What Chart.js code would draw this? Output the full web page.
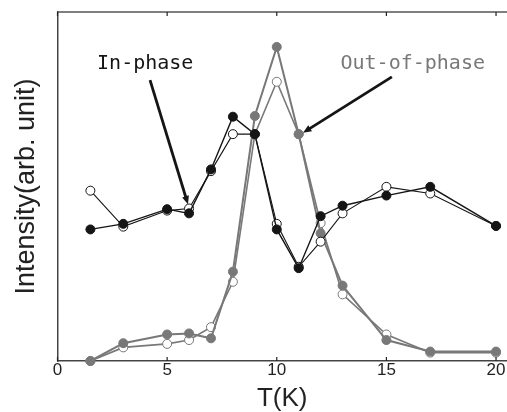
<!DOCTYPE html>
<html>
<head>
<meta charset="utf-8">
<title>Intensity vs T</title>
<script src="https://cdn.jsdelivr.net/npm/chart.js@4/dist/chart.umd.min.js"></script>
<style>
  html, body { margin: 0; padding: 0; background: #fff; }
  #chart { display: block; }
</style>
</head>
<body>
<canvas id="chart" width="507" height="412"></canvas>
<script>
// temperatures (K)
const temps = [1.5, 3, 5, 6, 7, 8, 9, 10, 11, 12, 13, 15, 17, 20];
const xTicks = [0, 5, 10, 15, 20];

// in-phase (black) and out-of-phase (gray), filled and open markers
const inPhaseFilled  = [37.7, 39.3, 43.5, 42.3, 54.9, 70.0, 65.0, 37.7, 26.6, 41.5, 44.5, 47.4, 49.9, 38.7];
const inPhaseOpen    = [48.8, 38.5, 43.1, 43.7, 54.4, 65.0, 65.0, 39.3, 27.0, 34.2, 42.3, 49.9, 48.0, 38.7];
const outPhaseFilled = [0.0, 5.1, 7.6, 7.9, 6.5, 25.6, 70.2, 90.0, 65.0, 36.6, 21.6, 6.0, 2.7, 2.7];
const outPhaseOpen   = [0.0, 3.9, 4.9, 6.0, 9.7, 22.7, 65.0, 80.0, 65.0, 39.5, 19.1, 7.6, 2.4, 2.4];

// annotation anchors in data units: [text x, text y, arrow start x, y, arrow tip x, y]
const inPhaseNote  = ["In-phase", 4.0, 85.1, 4.22, 80.5, 5.95, 44.9];
const outPhaseNote = ["Out-of-phase", 16.2, 85.1, 15.25, 81.4, 11.2, 65.4];

const BLACK = "#151515";
const GRAY = "#787878";

function pts(ys) {
    return temps.map((t, i) => ({x: t, y: ys[i]}));
}

function series(label, ys, color, filled, width, order) {
    return {
        label: label,
        data: pts(ys),
        borderColor: color,
        borderWidth: width,
        backgroundColor: color,
        pointRadius: 4.5,
        pointBorderWidth: 1,
        pointBorderColor: color,
        pointBackgroundColor: filled ? color : "#ffffff",
        tension: 0,
        clip: false,
        order: order,
    };
}

const framePlugin = {
    id: "frame",
    afterDraw(chart) {
        const ctx = chart.ctx;
        const a = chart.chartArea;
        const xs = chart.scales.x;
        const ys = chart.scales.y;
        ctx.save();
        // top frame line
        ctx.strokeStyle = "#555";
        ctx.lineWidth = 1.5;
        ctx.beginPath();
        ctx.moveTo(a.left, a.top);
        ctx.lineTo(a.right, a.top);
        ctx.stroke();
        // inward ticks top and bottom
        ctx.strokeStyle = "#222";
        ctx.lineWidth = 1.2;
        xTicks.forEach(v => {
            const px = xs.getPixelForValue(v);
            ctx.beginPath();
            ctx.moveTo(px, a.top);
            ctx.lineTo(px, a.top + 4);
            ctx.moveTo(px, a.bottom);
            ctx.lineTo(px, a.bottom - 4);
            ctx.stroke();
        });
        // annotations with arrows
        [[inPhaseNote, BLACK], [outPhaseNote, GRAY]].forEach(([n, col]) => {
            ctx.font = "20px 'DejaVu Sans Mono'";
            ctx.fillStyle = col;
            ctx.textAlign = "center";
            ctx.textBaseline = "middle";
            ctx.fillText(n[0], xs.getPixelForValue(n[1]), ys.getPixelForValue(n[2]));
            const x0 = xs.getPixelForValue(n[3]), y0 = ys.getPixelForValue(n[4]);
            const x1 = xs.getPixelForValue(n[5]), y1 = ys.getPixelForValue(n[6]);
            const ang = Math.atan2(y1 - y0, x1 - x0);
            const hl = 9;
            ctx.strokeStyle = BLACK;
            ctx.fillStyle = BLACK;
            ctx.lineWidth = 2.8;
            ctx.beginPath();
            ctx.moveTo(x0, y0);
            ctx.lineTo(x1 - Math.cos(ang) * hl * 0.7, y1 - Math.sin(ang) * hl * 0.7);
            ctx.stroke();
            ctx.beginPath();
            ctx.moveTo(x1, y1);
            ctx.lineTo(x1 - hl * Math.cos(ang - 0.4), y1 - hl * Math.sin(ang - 0.4));
            ctx.lineTo(x1 - hl * Math.cos(ang + 0.4), y1 - hl * Math.sin(ang + 0.4));
            ctx.closePath();
            ctx.fill();
        });
        ctx.restore();
    }
};

new Chart(document.getElementById("chart").getContext("2d"), {
    type: "line",
    data: {
        datasets: [
            series("In-phase (filled)", inPhaseFilled, BLACK, true, 1.4, 1),
            series("In-phase (open)", inPhaseOpen, BLACK, false, 1.1, 1),
            series("Out-of-phase (filled)", outPhaseFilled, GRAY, true, 2, 2),
            series("Out-of-phase (open)", outPhaseOpen, GRAY, false, 1.6, 2),
        ],
    },
    options: {
        responsive: false,
        animation: false,
        layout: { autoPadding: false, padding: { top: 12, right: 0, bottom: 0, left: 0 } },
        plugins: {
            legend: { display: false },
            tooltip: { enabled: false },
        },
        scales: {
            x: {
                type: "linear",
                min: 0,
                max: 20.5,
                afterBuildTicks: (s) => { s.ticks = xTicks.map(v => ({value: v})); },
                afterFit: (s) => { s.height = 51; s.paddingLeft = 0; s.paddingRight = 0; },
                grid: { display: false, drawTicks: false, tickLength: 0 },
                border: { display: true, color: "#444", width: 1.5 },
                ticks: {
                    color: "#222",
                    padding: 1,
                    maxRotation: 0,
                    font: { family: "'Liberation Sans', Arial, sans-serif", size: 17, lineHeight: 1 },
                },
                title: {
                    display: true,
                    text: "T(K)",
                    color: "#222",
                    padding: 0,
                    font: { family: "'Liberation Sans', Arial, sans-serif", size: 26, lineHeight: 1 },
                },
            },
            y: {
                min: 0,
                max: 100,
                afterFit: (s) => { s.width = 57.5; s.paddingTop = 0; s.paddingBottom = 0; },
                grid: { display: false, drawTicks: false, tickLength: 0 },
                border: { display: true, color: "#444", width: 1.5 },
                ticks: { display: false },
                title: {
                    display: true,
                    text: "Intensity(arb. unit)",
                    color: "#222",
                    padding: { top: 13, bottom: 0 },
                    font: { family: "'Liberation Sans', Arial, sans-serif", size: 27, lineHeight: 1 },
                },
            },
        },
    },
    plugins: [framePlugin],
});
</script>
</body>
</html>
